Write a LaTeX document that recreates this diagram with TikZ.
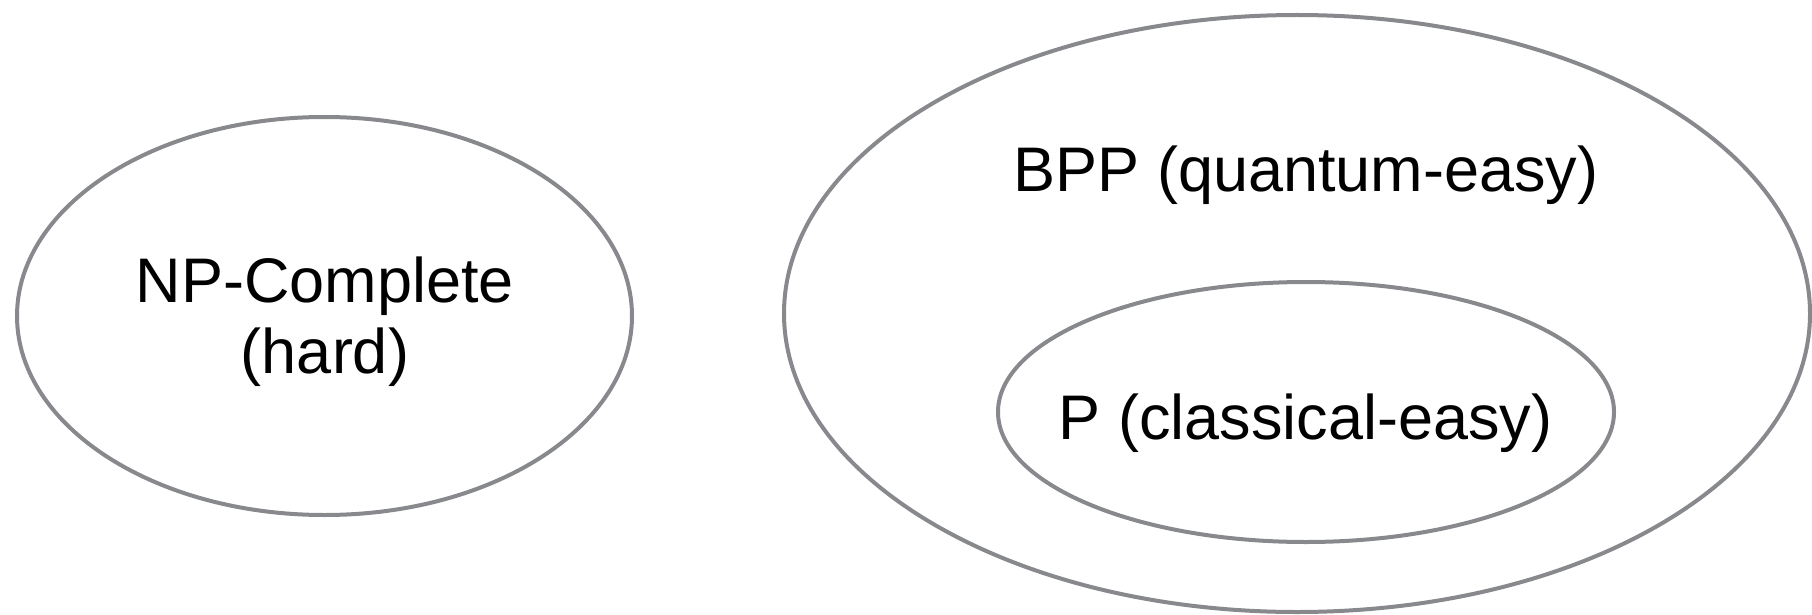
\documentclass[tikz,border=0pt]{standalone}
\usepackage{fontspec}
\setmainfont{Liberation Sans}
\usetikzlibrary{shapes.geometric}
\definecolor{ringgray}{HTML}{87898D}
\tikzset{
  setring/.style={ellipse, draw=ringgray, line width=4pt, inner sep=0pt, outer sep=0pt},
  label/.style={anchor=base, inner sep=0pt, font=\fontsize{63}{71}\selectfont, text=black}
}
\begin{document}
\begin{tikzpicture}[x=1pt, y=-1pt]
  \useasboundingbox (0,0) rectangle (1812,615);
  % complexity classes drawn as sets
  \node[setring, minimum width=615pt, minimum height=398pt] (npc) at (324.5,316) {};
  \node[setring, minimum width=1026pt, minimum height=597pt] (bpp) at (1297,313.5) {};
  \node[setring, minimum width=616pt, minimum height=260pt] (p) at (1306,412) {};
  % class names
  \node[label] (npname) at (325,302) {NP-Complete};
  \node[label] (npnote) at (325,373) {(hard)};
  \node[label] (bppname) at (1306,191) {BPP (quantum-easy)};
  \node[label] (pname) at (1305.5,439) {P (classical-easy)};
\end{tikzpicture}
\end{document}
